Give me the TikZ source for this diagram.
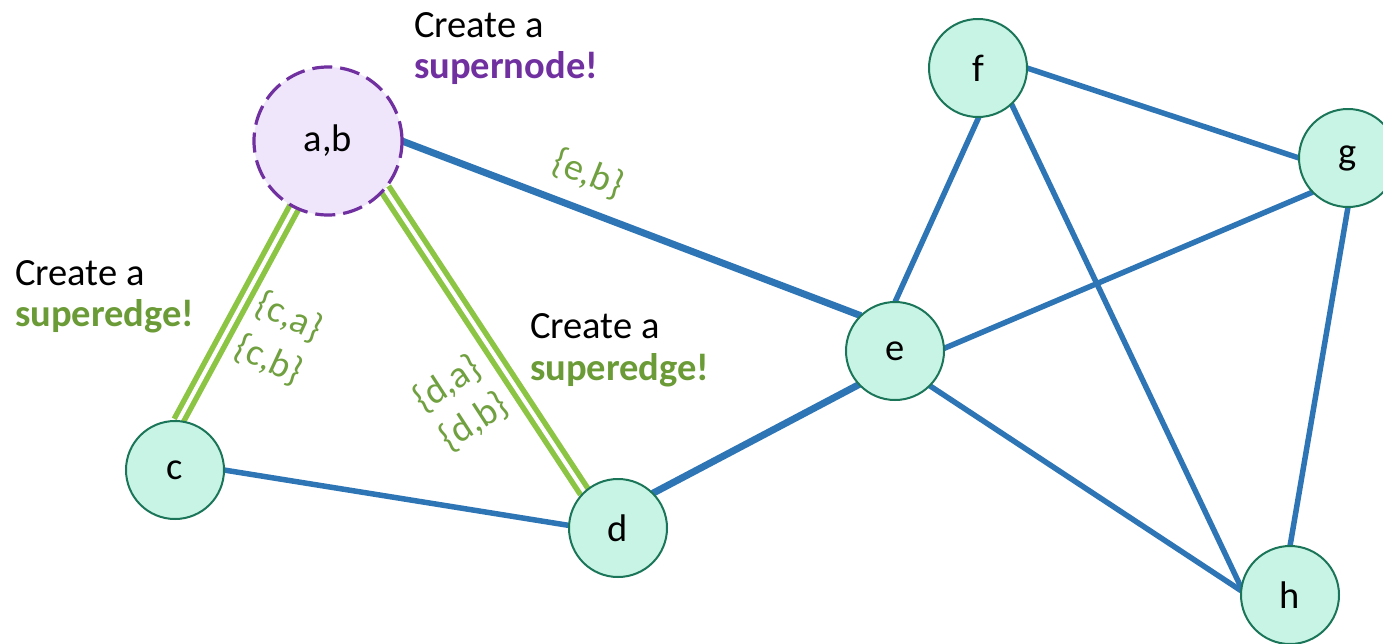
\documentclass[tikz,border=0pt]{standalone}
\usepackage{fontspec}
\setmainfont{Carlito}
\usetikzlibrary{backgrounds}
\definecolor{eblue}{HTML}{2E75B6}
\definecolor{ndark}{HTML}{1B7558}
\definecolor{nfill}{HTML}{C8F4E5}
\definecolor{sfill}{HTML}{EFE6FC}
\definecolor{spurple}{HTML}{7030A0}
\definecolor{sgreen}{HTML}{8CC444}
\definecolor{tgreen}{HTML}{6B9B37}
\definecolor{lgreen}{HTML}{70A040}
\begin{document}
\begin{tikzpicture}[x=1pt,y=-1pt,
  gnode/.style={circle, draw=ndark, fill=nfill, line width=2pt, minimum size=98pt, inner sep=0pt, outer sep=0pt, font=\fontsize{38.5}{41}\selectfont},
  snode/.style={circle, draw=spurple, fill=sfill, line width=3.2pt, dash pattern=on 20pt off 8pt, minimum size=148pt, inner sep=0pt, outer sep=0pt, font=\fontsize{38.5}{41}\selectfont},
  bedge/.style={draw=eblue, line width=5.5pt},
  bthick/.style={draw=eblue, line width=7pt},
  superedgeline/.style={draw=sgreen, line width=5.5pt, double=white, double distance=4pt},
  elabel/.style={text=lgreen, font=\fontsize{38}{40}\selectfont, inner sep=0pt},
  caption/.style={anchor=base west, inner sep=0pt, font=\fontsize{38.5}{41}\selectfont},
]
\useasboundingbox (0,0) rectangle (1383,643);

\node[snode] (ab) at (328,141) {a,b};
\node[gnode] (c) at (175,470) {c};
\node[gnode] (d) at (618,528) {d};
\node[gnode] (e) at (895,351) {e};
\node[gnode] (f) at (978,68) {f};
\node[gnode] (g) at (1348,158) {g};
\node[gnode] (h) at (1290,595) {h};

\begin{scope}[on background layer]
\draw[bthick] (ab.0) -- (e.134);
\draw[bedge] (c.0) -- (d.177);
\draw[bthick] (d.45) -- (e.223);
\draw[bedge] (e.90) -- (f.271);
\draw[bedge] (e.3) -- (g.224);
\draw[bedge] (e.-45) -- (h.175);
\draw[bedge] (f.0) -- (g.180);
\draw[bedge] (f.-47) -- (h.172);
\draw[bedge] (g.270) -- (h.90);
\draw[superedgeline] (c.86) -- (ab.243);
\draw[superedgeline] (d.133) -- (ab.320);
\end{scope}

\node[elabel, rotate=-22] (leb) at (588,174) {\{e,b\}};
\node[elabel, rotate=-25] (lca) at (289,317) {\{c,a\}};
\node[elabel, rotate=-25] (lcb) at (269,360) {\{c,b\}};
\node[elabel, rotate=33] (lda) at (447,384) {\{d,a\}};
\node[elabel, rotate=33] (ldb) at (474,422) {\{d,b\}};

\node[caption] (t1a) at (414,37) {Create a};
\node[caption, text=spurple] (t1b) at (414,78) {\textbf{supernode!}};
\node[caption] (t2a) at (15,285) {Create a};
\node[caption, text=tgreen] (t2b) at (15,326) {\textbf{superedge!}};
\node[caption] (t3a) at (530,338) {Create a};
\node[caption, text=tgreen] (t3b) at (530,380) {\textbf{superedge!}};
\end{tikzpicture}
\end{document}
